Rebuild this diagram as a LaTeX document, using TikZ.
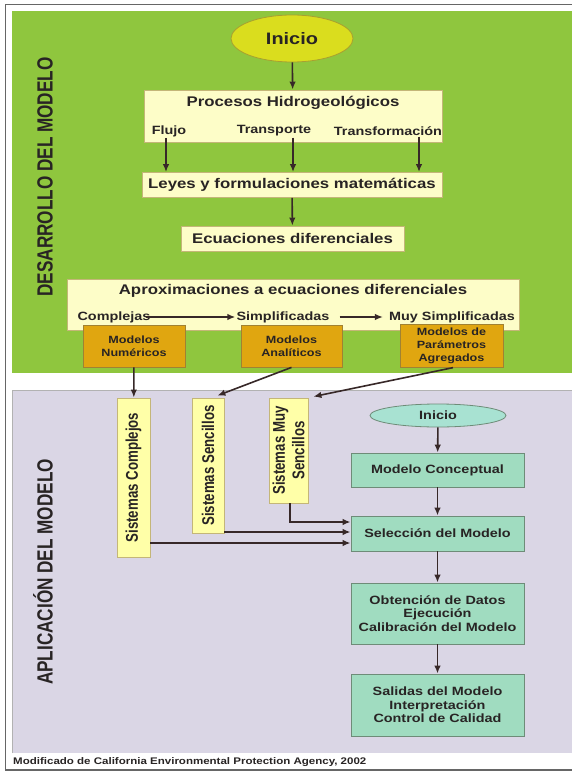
\documentclass[tikz,border=0pt]{standalone}
\usepackage{fontspec}
\setmainfont{Liberation Sans}[FakeStretch=1.2]
\newfontfamily\altofont{Liberation Sans}[FakeStretch=0.78]
\usetikzlibrary{arrows.meta,shapes.geometric}

\definecolor{verdeFondo}{RGB}{143,198,62}
\definecolor{lilaFondo}{RGB}{218,214,229}
\definecolor{crema}{RGB}{253,253,200}
\definecolor{bordeCrema}{RGB}{196,182,120}
\definecolor{ocre}{RGB}{224,166,16}
\definecolor{bordeOcre}{RGB}{160,130,50}
\definecolor{amarilloInicio}{RGB}{218,221,30}
\definecolor{bordeInicio}{RGB}{168,160,48}
\definecolor{menta}{RGB}{160,220,192}
\definecolor{mentaClaro}{RGB}{168,226,210}
\definecolor{bordeMenta}{RGB}{110,140,120}
\definecolor{amarilloSis}{RGB}{255,255,168}
\definecolor{texto}{RGB}{40,36,36}
\definecolor{flechaCol}{RGB}{55,40,40}

\tikzset{
  caja/.style={draw=bordeCrema, fill=crema, line width=0.8pt, inner sep=0pt},
  titulo/.style={text=texto, inner sep=1pt, font=\bfseries\fontsize{14}{16}\selectfont},
  sub/.style={text=texto, inner sep=1pt, font=\bfseries\fontsize{12}{14}\selectfont},
  modelo/.style={draw=bordeOcre, fill=ocre, line width=0.8pt, text=texto, align=center,
    minimum height=42pt, font=\bfseries\fontsize{10.5}{13}\selectfont},
  sistema/.style={draw=bordeCrema, fill=amarilloSis, line width=0.8pt, rotate=90, text=texto,
    align=center, inner sep=0pt, font=\altofont\bfseries\fontsize{17}{19.5}\selectfont},
  paso/.style={draw=bordeMenta, fill=menta, line width=0.8pt, text=texto, align=center,
    minimum width=173pt, font=\bfseries\fontsize{12}{13.5}\selectfont},
  flecha/.style={draw=flechaCol, line width=1.6pt, -{Latex[length=8pt,width=6.5pt]}},
  rotulo/.style={rotate=90, text=texto, font=\altofont\bfseries\fontsize{22}{24}\selectfont}
}

\begin{document}
\begin{tikzpicture}[x=1pt,y=-1pt]
\useasboundingbox (0,0) rectangle (571,773);
\fill[white] (0,0) rectangle (571,773);
\draw[gray!80!black, line width=1.5pt] (5.5,4.5) rectangle (580,770);

% fondos
\fill[verdeFondo] (12,11) rectangle (575,373);
\fill[lilaFondo] (12,390) rectangle (575,753);
\draw[gray!60, line width=0.6pt] (12,753) -- (12,390) -- (575,390);

\node[rotulo] (desarrollo) at (45,177) {DESARROLLO DEL MODELO};
\node[rotulo] (aplicacion) at (43,572) {APLICACIÓN DEL MODELO};

% desarrollo del modelo
\node[ellipse, draw=bordeInicio, fill=amarilloInicio, line width=0.8pt, minimum width=122pt, minimum height=47pt,
  text=texto, font=\bfseries\fontsize{16.6}{18}\selectfont] (inicioA) at (292,38.5) {Inicio};
\node[caja, minimum width=298pt, minimum height=52pt] (procesos) at (293,116) {};
\node[titulo] (procesosTit) at (293,103) {Procesos Hidrogeológicos};
\node[sub] (flujo) at (169,131) {Flujo};
\node[sub] (transporte) at (274,131) {Transporte};
\node[sub] (transformacion) at (388,131) {Transformación};
\node[caja, titulo, minimum width=300pt, minimum height=25pt] (leyes) at (292,185) {Leyes y formulaciones matemáticas};
\node[caja, titulo, minimum width=223pt, minimum height=25pt] (ecuaciones) at (292.5,238.5) {Ecuaciones diferenciales};
\node[caja, minimum width=452pt, minimum height=51pt] (aprox) at (293,304.5) {};
\node[titulo] (aproxTit) at (293,291) {Aproximaciones a ecuaciones diferenciales};
\node[sub] (complejas) at (114,317) {Complejas};
\node[sub] (simplificadas) at (283,317) {Simplificadas};
\node[sub] (muySimp) at (452,317) {Muy Simplificadas};

\draw[flecha] (inicioA) -- (procesos);
\draw[flecha] ([xshift=-3pt]flujo.south) -- ([xshift=-3pt]flujo.south |- leyes.north);
\draw[flecha] ([xshift=19pt]transporte.south) -- ([xshift=19pt]transporte.south |- leyes.north);
\draw[flecha] ([xshift=31pt]transformacion.south) -- ([xshift=31pt]transformacion.south |- leyes.north);
\draw[flecha] (leyes) -- (ecuaciones);
\draw[flecha] ([xshift=-6pt]complejas.east) -- (simplificadas.west);
\draw[flecha] ([xshift=9pt]simplificadas.east) -- ([xshift=-5pt]muySimp.west);

\node[modelo, minimum width=102pt] (numericos) at (134,346) {Modelos\\Numéricos};
\node[modelo, minimum width=101pt] (analiticos) at (291.5,346) {Modelos\\Analíticos};
\node[modelo, minimum width=103pt] (parametros) at (451.5,346) {Modelos de\\Parámetros\\Agregados};

% aplicacion del modelo
\node[sistema, minimum width=159pt, minimum height=33pt] (complejos) at (133.5,477.5) {Sistemas Complejos};
\node[sistema, minimum width=135pt, minimum height=32pt] (sencillos) at (208,465.5) {Sistemas Sencillos};
\node[sistema, minimum width=105pt, minimum height=39pt] (muySencillos) at (288.5,450.5) {Sistemas Muy\\Sencillos};

\draw[flecha] (numericos) -- (complejos);
\draw[flecha] (analiticos.south) -- ([xshift=-7pt,yshift=2pt]sencillos.south east);
\draw[flecha] ([xshift=1.5pt]parametros.south) -- ([xshift=5pt,yshift=1pt]muySencillos.south east);

\node[ellipse, draw=bordeMenta, fill=mentaClaro, line width=0.8pt, minimum width=136pt, minimum height=23pt,
  inner sep=0pt, text=texto, font=\bfseries\fontsize{12}{14}\selectfont] (inicioB) at (438,415.5) {Inicio};
\node[paso, minimum height=34pt] (conceptual) at (437.5,470) {Modelo Conceptual};
\node[paso, minimum height=35pt] (seleccion) at (437.5,533.5) {Selección del Modelo};
\node[paso, minimum height=61pt] (obtencion) at (437.5,613.5) {Obtención de Datos\\Ejecución\\Calibración del Modelo};
\node[paso, minimum height=62pt] (salidas) at (437.5,705) {Salidas del Modelo\\Interpretación\\Control de Calidad};

\draw[flecha] (inicioB) -- (conceptual);
\draw[flecha] (conceptual) -- (seleccion);
\draw[flecha] (seleccion) -- (obtencion);
\draw[flecha] (obtencion) -- (salidas);

\coordinate (entraA) at ([yshift=11.5pt]seleccion.west);
\coordinate (entraB) at ([yshift=1.5pt]seleccion.west);
\coordinate (entraC) at ([yshift=-9.5pt]seleccion.west);
\draw[flecha] ([xshift=1.5pt]muySencillos.west) |- (entraA);
\draw[flecha] (sencillos.south west |- entraB) -- (entraB);
\draw[flecha] (complejos.south |- entraC) -- (entraC);

\node[anchor=west, text=texto, inner sep=0pt, font=\bfseries\fontsize{9.6}{11}\selectfont] (fuente) at (13,762)
  {Modificado de California Environmental Protection Agency, 2002};
\end{tikzpicture}
\end{document}
